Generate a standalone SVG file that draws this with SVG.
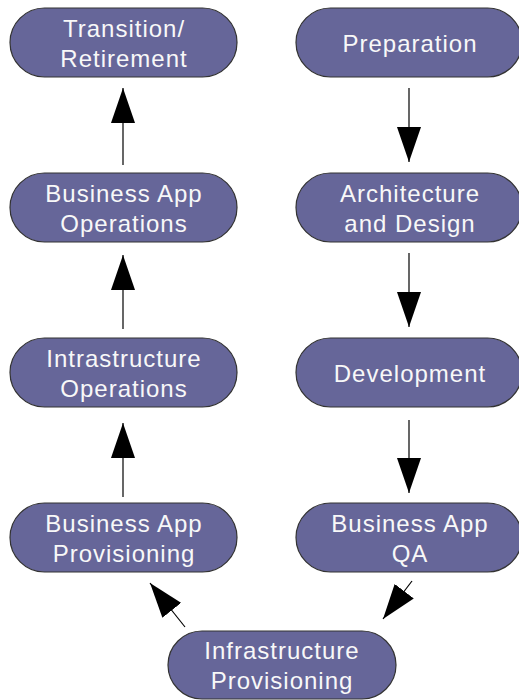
<svg xmlns="http://www.w3.org/2000/svg" width="519" height="700" viewBox="0 0 519 700">
  <style>
    .node rect { fill: #666699; stroke: #333333; stroke-width: 1.2; }
    .node text { fill: #f8f8f8; font-family: "Liberation Sans", Arial, sans-serif; font-size: 24px; letter-spacing: 1px; text-anchor: middle; }
    .conn line { stroke: #000000; stroke-width: 1.2; marker-end: url(#head); }
  </style>
  <defs>
    <marker id="head" viewBox="0 0 35 24" refX="35" refY="12" markerWidth="35" markerHeight="24" markerUnits="userSpaceOnUse" orient="auto">
      <path d="M0,0 L35,12 L0,24 Z" fill="#000000"/>
    </marker>
  </defs>

  <rect width="519" height="700" fill="#ffffff"/>

  <!-- connectors -->
  <g id="connectors" class="conn">
    <line x1="123" y1="165" x2="123" y2="88"/>
    <line x1="123" y1="329" x2="123" y2="255"/>
    <line x1="123" y1="497" x2="123" y2="423"/>
    <line x1="409" y1="88" x2="409" y2="162"/>
    <line x1="409" y1="253" x2="409" y2="327"/>
    <line x1="409" y1="420" x2="409" y2="493"/>
    <line x1="185" y1="627" x2="150" y2="583"/>
    <line x1="412" y1="581" x2="383" y2="619"/>
  </g>

  <!-- left column -->
  <g id="transition" class="node">
    <rect x="10" y="8" width="227" height="69" rx="34.5"/>
    <text x="124" y="37">Transition/</text>
    <text x="124" y="67">Retirement</text>
  </g>
  <g id="business-app-operations" class="node">
    <rect x="10" y="173" width="227" height="69" rx="34.5"/>
    <text x="124" y="202">Business App</text>
    <text x="124" y="232">Operations</text>
  </g>
  <g id="infrastructure-operations" class="node">
    <rect x="10" y="338" width="227" height="69" rx="34.5"/>
    <text x="124" y="367">Intrastructure</text>
    <text x="124" y="397">Operations</text>
  </g>
  <g id="business-app-provisioning" class="node">
    <rect x="10" y="503" width="227" height="69" rx="34.5"/>
    <text x="124" y="532">Business App</text>
    <text x="124" y="562">Provisioning</text>
  </g>

  <!-- right column -->
  <g id="preparation" class="node">
    <rect x="296" y="8" width="226" height="69" rx="34.5"/>
    <text x="410" y="52">Preparation</text>
  </g>
  <g id="architecture" class="node">
    <rect x="296" y="173" width="226" height="69" rx="34.5"/>
    <text x="410" y="202">Architecture</text>
    <text x="410" y="232">and Design</text>
  </g>
  <g id="development" class="node">
    <rect x="296" y="338" width="226" height="69" rx="34.5"/>
    <text x="410" y="382">Development</text>
  </g>
  <g id="business-app-qa" class="node">
    <rect x="296" y="503" width="226" height="69" rx="34.5"/>
    <text x="410" y="532">Business App</text>
    <text x="410" y="562">QA</text>
  </g>

  <!-- bottom -->
  <g id="infrastructure-provisioning" class="node">
    <rect x="168" y="631" width="228" height="68" rx="34"/>
    <text x="282" y="659">Infrastructure</text>
    <text x="282" y="689">Provisioning</text>
  </g>
</svg>
